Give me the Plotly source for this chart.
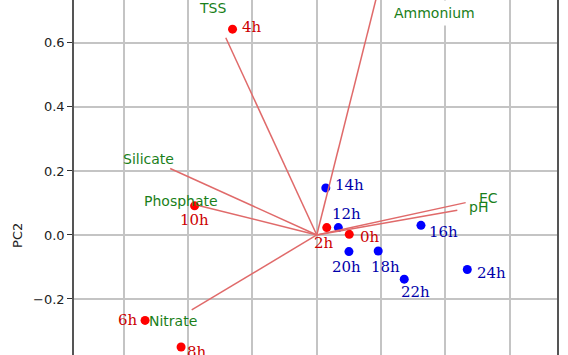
import plotly.graph_objects as go

# ---- data: PCA scores ----
sample_labels = ["0h", "2h", "4h", "6h", "8h", "10h", "12h", "14h", "16h", "18h", "20h", "22h", "24h"]
pc1_scores = [0.101, 0.031, -0.262, -0.534, -0.422, -0.380, 0.067, 0.028, 0.324, 0.191, 0.100, 0.272, 0.468]
pc2_scores = [0.002, 0.023, 0.643, -0.267, -0.350, 0.091, 0.023, 0.147, 0.030, -0.050, -0.052, -0.138, -0.108]
sample_group = ["day", "day", "day", "day", "day", "day", "night", "night", "night", "night", "night", "night", "night"]

# ---- data: loadings ----
variables = ["TSS", "Ammonium", "Silicate", "Phosphate", "Nitrate", "EC", "pH"]
load_pc1 = [-0.283, 0.200, -0.456, -0.368, -0.389, 0.463, 0.437]
load_pc2 = [0.616, 0.800, 0.2075, 0.092, -0.234, 0.101, 0.077]
label_scale = 1.15
label_override = {"Ammonium": (0.3656, 0.692)}

y_ticks = [-0.2, 0.0, 0.2, 0.4, 0.6]
x_grid = [-0.6, -0.4, -0.2, 0.0, 0.2, 0.4, 0.6]

# ---- styles / label offsets (pixels: dx right, dy down) ----
label_offsets = {
    "0h": (21, 3), "2h": (-3, 15), "4h": (19, -2), "6h": (-17, 0), "8h": (16, 5),
    "10h": (0, 14), "12h": (8, -14), "14h": (24, -3), "16h": (23, 7), "18h": (7, 16),
    "20h": (-2, 15), "22h": (11, 13), "24h": (24, 3),
}
marker_colors = {"day": "#ff0000", "night": "#0000ff"}
text_colors = {"day": "#cc0000", "night": "#0000aa"}
line_color = "#e06a6a"
green = "#1a801a"

fig = go.Figure()

for grp in ["day", "night"]:
    idx = [i for i, g in enumerate(sample_group) if g == grp]
    fig.add_trace(go.Scatter(
        x=[pc1_scores[i] for i in idx], y=[pc2_scores[i] for i in idx],
        mode="markers", marker=dict(color=marker_colors[grp], size=9, line=dict(width=0)),
        showlegend=False, hoverinfo="skip"))

for v, lx, ly in zip(variables, load_pc1, load_pc2):
    fig.add_trace(go.Scatter(x=[0, lx], y=[0, ly], mode="lines",
                             line=dict(color=line_color, width=1.5),
                             showlegend=False, hoverinfo="skip"))

annotations = []
for lab, x, y, g in zip(sample_labels, pc1_scores, pc2_scores, sample_group):
    dx, dy = label_offsets[lab]
    annotations.append(dict(x=x, y=y, xref="x", yref="y", text=lab, showarrow=False,
                            xshift=dx, yshift=-dy, xanchor="center", yanchor="middle",
                            font=dict(family="DejaVu Serif", size=15, color=text_colors[g])))

for v, lx, ly in zip(variables, load_pc1, load_pc2):
    if v in label_override:
        tx, ty = label_override[v]
        bg = "white"
    else:
        tx, ty = lx * label_scale, ly * label_scale
        bg = "rgba(0,0,0,0)"
    annotations.append(dict(x=tx, y=ty, xref="x", yref="y", text=v, showarrow=False,
                            xanchor="center", yanchor="middle", bgcolor=bg, borderpad=4,
                            font=dict(family="DejaVu Sans", size=14, color=green)))

annotations.append(dict(x=-0.116, y=(0.0 - (-0.375)) / (0.734 + 0.375), xref="paper", yref="paper",
                        text="PC2", showarrow=False, textangle=-90, xanchor="center", yanchor="middle",
                        font=dict(family="DejaVu Sans", size=13, color="#222")))

fig.update_layout(
    width=568, height=355,
    margin=dict(l=74, r=11, t=0, b=0),
    plot_bgcolor="white", paper_bgcolor="white",
    annotations=annotations,
    xaxis=dict(range=[-0.755, 0.747], tickvals=x_grid, showticklabels=False, ticks="",
               showgrid=True, gridcolor="#c4c4c4", gridwidth=1.5, zeroline=False, showline=False),
    yaxis=dict(range=[-0.375, 0.734], tickvals=y_ticks, tickformat=".1f", ticks="outside",
               ticklen=5, tickwidth=1.2, tickcolor="#333",
               showgrid=True, gridcolor="#c4c4c4", gridwidth=1.5, zeroline=False,
               showline=True, linecolor="#555", linewidth=1.5, mirror=True,
               tickfont=dict(family="DejaVu Sans", size=13, color="#222")),
)

fig.write_html("out.html")
